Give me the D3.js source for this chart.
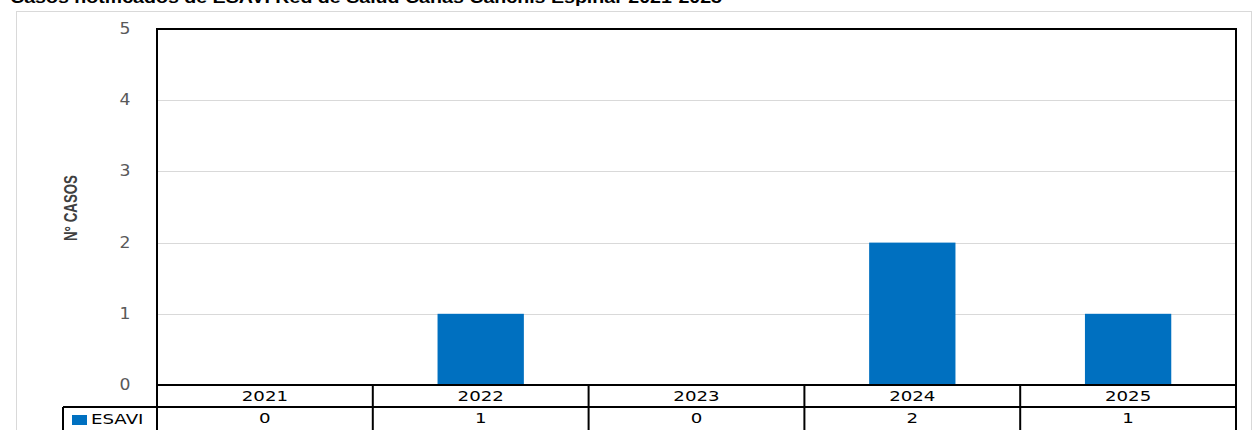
<!DOCTYPE html>
<html>
<head>
<meta charset="utf-8">
<script src="https://cdn.jsdelivr.net/npm/d3@7"></script>
<style>
  body { margin: 0; background: #fff; }
  svg { display: block; }
</style>
</head>
<body>
<div id="chart"></div>
<script>
// Data
const years = ["2021", "2022", "2023", "2024", "2025"];
const esavi = [0, 1, 0, 2, 1];
const yTicks = [0, 1, 2, 3, 4, 5];
const seriesName = "ESAVI";
const title = "Casos notificados de ESAVI Red de Salud Canas Canchis Espinar 2021-2025";

const W = 1253, H = 430;
const plot = { left: 157, right: 1236, top: 29, bottom: 385 };
const rowH = 22;
const stretch = 1.3; // text in the original looks widened

const svg = d3.select("#chart").append("svg")
  .attr("width", W)
  .attr("height", H);

// Title (cut off at top like the original)
svg.append("text")
  .attr("x", 10)
  .attr("y", 3)
  .attr("textLength", 712)
  .attr("lengthAdjust", "spacingAndGlyphs")
  .style("font-family", "Arial, 'Liberation Sans', sans-serif")
  .style("font-weight", "bold")
  .style("font-size", "17px")
  .text(title);

// Outer chart box
svg.append("rect")
  .attr("x", 16.5)
  .attr("y", 11.5)
  .attr("width", 1235)
  .attr("height", 430)
  .attr("fill", "none")
  .attr("stroke", "#d9d9d9")
  .attr("stroke-width", 1);

// Scales
const x = d3.scaleBand()
  .domain(years)
  .range([plot.left, plot.right])
  .paddingInner(0)
  .paddingOuter(0);

const y = d3.scaleLinear()
  .domain([0, 5])
  .range([plot.bottom, plot.top]);

// Gridlines
svg.append("g")
  .selectAll("line")
  .data(yTicks.filter(d => d > 0 && d < 5))
  .enter().append("line")
  .attr("x1", plot.left)
  .attr("x2", plot.right)
  .attr("y1", d => Math.round(y(d)) + 0.5)
  .attr("y2", d => Math.round(y(d)) + 0.5)
  .attr("stroke", "#d9d9d9");

// Y tick labels
svg.append("g")
  .selectAll("text")
  .data(yTicks)
  .enter().append("text")
  .attr("transform", d => "translate(125," + (y(d) + 5) + ") scale(1.15,1)")
  .attr("text-anchor", "middle")
  .style("font-family", "'DejaVu Sans', Verdana, sans-serif")
  .style("font-size", "15px")
  .style("fill", "#595959")
  .text(d => d);

// Bars
const bw = x.bandwidth() * 0.4;
svg.append("g")
  .selectAll("rect")
  .data(esavi)
  .enter().append("rect")
  .attr("x", (d, i) => x(years[i]) + (x.bandwidth() - bw) / 2)
  .attr("y", d => y(d))
  .attr("width", bw)
  .attr("height", d => plot.bottom - y(d))
  .attr("fill", "#0070C0");

// Plot border
svg.append("rect")
  .attr("x", plot.left)
  .attr("y", plot.top)
  .attr("width", plot.right - plot.left)
  .attr("height", plot.bottom - plot.top)
  .attr("fill", "none")
  .attr("stroke", "#000")
  .attr("stroke-width", 2);

// Y axis title
svg.append("text")
  .attr("transform", "translate(77,208) rotate(-90) scale(0.74,1)")
  .attr("text-anchor", "middle")
  .style("font-family", "'Liberation Sans', Arial, sans-serif")
  .style("font-weight", "bold")
  .style("font-size", "18px")
  .style("fill", "#404040")
  .text("N° CASOS");

// Data table
const table = svg.append("g");
const tStyle = sel => sel
  .style("font-family", "'DejaVu Sans', Verdana, sans-serif")
  .style("font-size", "14px")
  .style("fill", "#000");

// horizontal lines
[[plot.left, plot.right, plot.bottom + rowH], [63, plot.right, plot.bottom + rowH]].forEach(l => {
  table.append("line")
    .attr("x1", l[0]).attr("x2", l[1])
    .attr("y1", l[2]).attr("y2", l[2])
    .attr("stroke", "#000").attr("stroke-width", 2);
});
// vertical lines
years.forEach((yr, i) => {
  table.append("line")
    .attr("x1", x(yr)).attr("x2", x(yr))
    .attr("y1", plot.bottom).attr("y2", H)
    .attr("stroke", "#000").attr("stroke-width", 2);
});
table.append("line")
  .attr("x1", plot.right).attr("x2", plot.right)
  .attr("y1", plot.bottom).attr("y2", H)
  .attr("stroke", "#000").attr("stroke-width", 2);
table.append("line")
  .attr("x1", 63).attr("x2", 63)
  .attr("y1", plot.bottom + rowH).attr("y2", H)
  .attr("stroke", "#000").attr("stroke-width", 2);

// year labels
table.selectAll(".yr")
  .data(years)
  .enter().append("text")
  .attr("class", "yr")
  .attr("transform", d => "translate(" + (x(d) + x.bandwidth() / 2) + "," + (plot.bottom + 16) + ") scale(" + stretch + ",1)")
  .attr("text-anchor", "middle")
  .call(tStyle)
  .text(d => d);

// values
table.selectAll(".val")
  .data(esavi)
  .enter().append("text")
  .attr("class", "val")
  .attr("transform", (d, i) => "translate(" + (x(years[i]) + x.bandwidth() / 2) + "," + (plot.bottom + rowH + 16) + ") scale(" + stretch + ",1)")
  .attr("text-anchor", "middle")
  .call(tStyle)
  .text(d => d);

// legend key
table.append("rect")
  .attr("x", 72)
  .attr("y", plot.bottom + rowH + 8)
  .attr("width", 15)
  .attr("height", 10)
  .attr("fill", "#0070C0");
table.append("text")
  .attr("transform", "translate(91," + (plot.bottom + rowH + 17) + ") scale(" + stretch + ",1)")
  .call(tStyle)
  .text(seriesName);
</script>
</body>
</html>
